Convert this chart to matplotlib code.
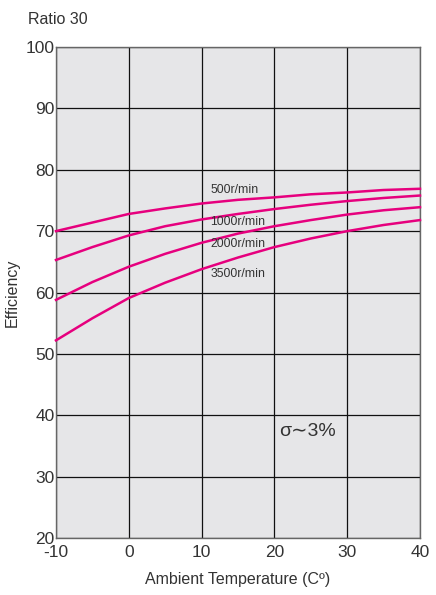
import matplotlib.pyplot as plt

# ambient temperature (C) and efficiency (%) per input speed
temps = [-10, -5, 0, 5, 10, 15, 20, 25, 30, 35, 40]
eff_500 = [70.0, 71.4, 72.8, 73.7, 74.5, 75.1, 75.5, 76.0, 76.3, 76.7, 76.9]
eff_1000 = [65.3, 67.4, 69.3, 70.8, 71.9, 72.8, 73.6, 74.3, 74.9, 75.4, 75.8]
eff_2000 = [58.8, 61.7, 64.2, 66.3, 68.1, 69.6, 70.8, 71.8, 72.7, 73.4, 73.9]
eff_3500 = [52.2, 55.8, 59.1, 61.6, 63.8, 65.7, 67.4, 68.8, 70.0, 71.0, 71.8]
speed_labels = ['500r/min', '1000r/min', '2000r/min', '3500r/min']
label_y = [76.7, 71.5, 67.9, 63.0]

x_ticks = [-10, 0, 10, 20, 30, 40]
y_ticks = [20, 30, 40, 50, 60, 70, 80, 90, 100]

plt.rcParams['font.family'] = ['Liberation Sans', 'DejaVu Sans']
plt.rcParams['axes.unicode_minus'] = False

fig = plt.figure(figsize=(4.36, 5.95), dpi=100)
ax = fig.add_axes([0.1284, 0.0958, 0.8349, 0.8252])
ax.set_facecolor('#e6e6e8')

line_color = '#e6007e'
for series in [eff_500, eff_1000, eff_2000, eff_3500]:
    ax.plot(temps, series, color=line_color, lw=1.8, zorder=3, clip_on=False)

for txt, yv in zip(speed_labels, label_y):
    ax.text(11.2, yv, txt, fontsize=8.8, color='#333333', va='center', ha='left', zorder=4)

ax.text(20.6, 37.3, '\u03c3\u223c3%', fontsize=14, color='#333333', va='center', ha='left')

ax.set_xlim(-10, 40)
ax.set_ylim(20, 100)
ax.set_xticks(x_ticks)
ax.set_yticks(y_ticks)
ax.grid(True, color='#111111', lw=0.9, zorder=1)
ax.set_axisbelow(True)
for s in ax.spines.values():
    s.set_color('#666666')
    s.set_linewidth(1.0)
ax.tick_params(length=0, labelsize=12.5, colors='#333333')
ax.tick_params(axis='y', pad=1)
ax.tick_params(axis='x', pad=5)

ax.set_xlabel('Ambient Temperature (C\u00ba)', fontsize=11.5, color='#333333', labelpad=9)
ax.set_ylabel('Efficiency', fontsize=11.5, color='#333333', labelpad=4)
fig.text(0.064, 0.968, 'Ratio 30', fontsize=11.5, color='#333333', va='center', ha='left')

fig.savefig('out.png', dpi=100)
